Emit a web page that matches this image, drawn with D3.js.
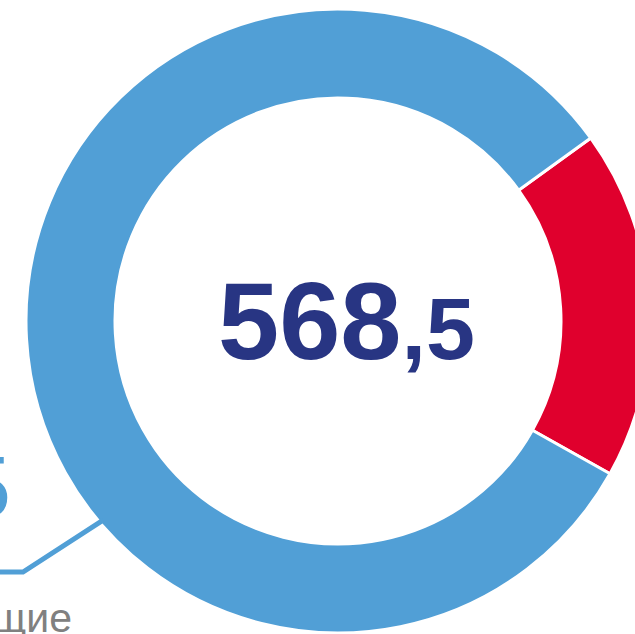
<!DOCTYPE html>
<html>
<head>
<meta charset="utf-8">
<script src="https://cdn.jsdelivr.net/npm/d3@7"></script>
<style>
  html, body { margin: 0; padding: 0; background: #fff; overflow: hidden; }
  svg { display: block; }
</style>
</head>
<body>
<div id="chart"></div>
<script>
// Donut with total in the centre

const categories = ["Прочие", "Текущие"];
const values = [103, 465.5];
const colors = ["#e0002d", "#519fd6"];

const svgWidth = 635;
const svgHeight = 634;
const cx = 338, cy = 321;
const outerR = 312, innerR = 223;

const svg = d3.select("#chart")
    .append("svg")
    .attr("width", svgWidth)
    .attr("height", svgHeight);

const g = svg.append("g")
    .attr("transform", `translate(${cx},${cy})`);

// red slice starts a little past 2 o'clock
const start = 54.1 * Math.PI / 180;
const pie = d3.pie()
    .sort(null)
    .value(d => d)
    .startAngle(start)
    .endAngle(start + 2 * Math.PI);

const arc = d3.arc()
    .innerRadius(innerR)
    .outerRadius(outerR);

g.selectAll("path.slice")
    .data(pie(values))
    .enter().append("path")
    .attr("class", "slice")
    .attr("d", arc)
    .attr("fill", (d, i) => colors[i])
    .attr("stroke", "#fff")
    .attr("stroke-width", 3);

// split number into integer part and decimal part
function parts(v) {
    const s = d3.format(".1f")(v).split(".");
    return [s[0], "," + s[1]];
}

const total = d3.sum(values);
const tp = parts(total);
const centre = svg.append("text")
    .attr("x", 218)
    .attr("y", 359)
    .attr("fill", "#283583")
    .style("font-family", "'Liberation Sans', Arial, sans-serif")
    .style("font-weight", "bold");
centre.append("tspan").style("font-size", "110px").text(tp[0]);
centre.append("tspan").style("font-size", "88px").text(tp[1]);

// leader line to the blue slice label
const a = 229.7 * Math.PI / 180;
const p0 = [cx + (outerR - 4) * Math.sin(a), cy - (outerR - 4) * Math.cos(a)];
const leader = d3.line();
svg.append("path")
    .attr("d", leader([p0, [23, 572], [-10, 572]]))
    .attr("fill", "none")
    .attr("stroke", colors[1])
    .attr("stroke-width", 5);

const bp = parts(values[1]);
const blueLabel = svg.append("text")
    .attr("x", 11)
    .attr("y", 517)
    .attr("text-anchor", "end")
    .attr("fill", colors[1])
    .style("font-family", "'Liberation Sans', Arial, sans-serif");
blueLabel.append("tspan").style("font-size", "110px").text(bp[0]);
blueLabel.append("tspan").style("font-size", "88px").text(bp[1]);

svg.append("text")
    .attr("x", 72)
    .attr("y", 632)
    .attr("text-anchor", "end")
    .attr("fill", "#808080")
    .style("font-family", "'Liberation Sans', Arial, sans-serif")
    .style("font-size", "41px")
    .text(categories[1]);
</script>
</body>
</html>
